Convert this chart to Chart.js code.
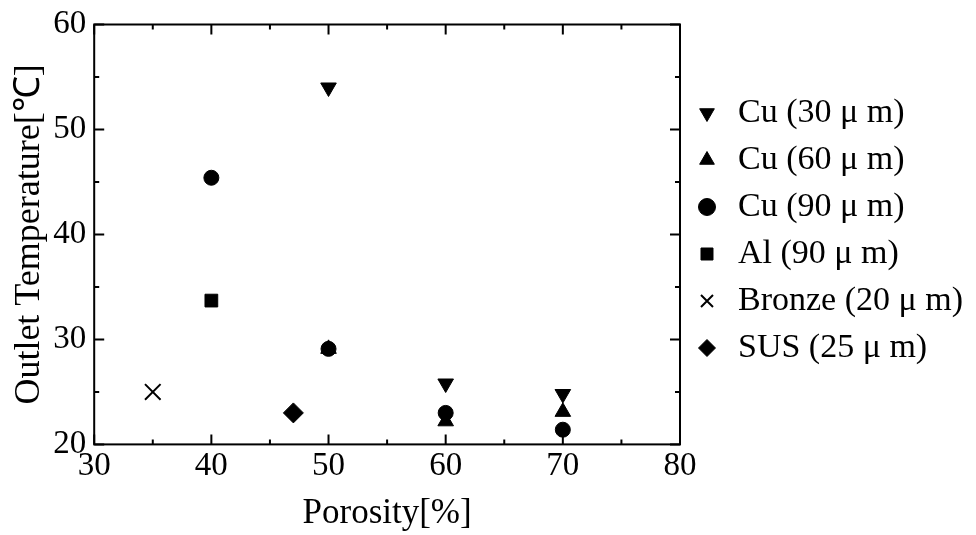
<!DOCTYPE html>
<html>
<head>
<script src="https://cdn.jsdelivr.net/npm/chart.js@4.4.0/dist/chart.umd.min.js"></script>
<style>body{margin:0;background:#fff}</style>
</head>
<body>
<div style="width:976px;height:535px"><canvas id="myChart"></canvas></div>
<script>
// series
var seriesNames = ["Cu (30 μ m)", "Cu (60 μ m)", "Cu (90 μ m)", "Al (90 μ m)", "Bronze (20 μ m)", "SUS (25 μ m)"];
var cu30X = [50, 60, 70],     cu30Y = [54, 25.8, 24.8];
var cu60X = [50, 60, 70],     cu60Y = [29.1, 22.2, 23.1];
var cu90X = [40, 50, 60, 70], cu90Y = [45.4, 29.1, 23.0, 21.4];
var alX = [40],               alY = [33.7];
var bronzeX = [35],           bronzeY = [25];
var susX = [47],              susY = [23];
var xTicks = [30, 40, 50, 60, 70, 80];
var yTicks = [20, 30, 40, 50, 60];

var FONT = "'Liberation Serif', 'Times New Roman', serif";

function pts(xs, ys) {
    return xs.map(function(x, i) { return {x: x, y: ys[i]}; });
}

function ds(i, xs, ys, style, r, rot) {
    var cross = style === 'crossRot';
    return {
        label: seriesNames[i],
        data: pts(xs, ys),
        pointStyle: style,
        pointRadius: r,
        rotation: rot || 0,
        backgroundColor: cross ? 'rgba(0,0,0,0)' : '#000',
        borderColor: '#000',
        borderWidth: cross ? 2 : 1,
        showLine: false
    };
}

// frame on all four sides plus inward tick marks
var frameTicks = {
    id: 'frameTicks',
    beforeDatasetsDraw: function(chart) {
        var c = chart.ctx, a = chart.chartArea;
        var sx = chart.scales.x, sy = chart.scales.y;
        c.save();
        c.strokeStyle = '#000';
        c.lineWidth = 2;
        c.strokeRect(a.left, a.top, a.right - a.left, a.bottom - a.top);
        c.beginPath();
        sx.ticks.forEach(function(t, i) {
            var p = sx.getPixelForValue(t.value);
            c.moveTo(p, a.bottom); c.lineTo(p, a.bottom - 10);
            c.moveTo(p, a.top); c.lineTo(p, a.top + 10);
            if (i < sx.ticks.length - 1) {
                var m = (p + sx.getPixelForValue(sx.ticks[i + 1].value)) / 2;
                c.moveTo(m, a.bottom); c.lineTo(m, a.bottom - 5);
                c.moveTo(m, a.top); c.lineTo(m, a.top + 5);
            }
        });
        sy.ticks.forEach(function(t, i) {
            var p = sy.getPixelForValue(t.value);
            c.moveTo(a.left, p); c.lineTo(a.left + 10, p);
            c.moveTo(a.right, p); c.lineTo(a.right - 10, p);
            if (i < sy.ticks.length - 1) {
                var m = (p + sy.getPixelForValue(sy.ticks[i + 1].value)) / 2;
                c.moveTo(a.left, m); c.lineTo(a.left + 5, m);
                c.moveTo(a.right, m); c.lineTo(a.right - 5, m);
            }
        });
        c.stroke();
        c.restore();
    }
};

new Chart(document.getElementById('myChart'), {
    type: 'scatter',
    data: {
        datasets: [
            ds(0, cu30X, cu30Y, 'triangle', 9, 180),
            ds(1, cu60X, cu60Y, 'triangle', 9),
            ds(2, cu90X, cu90Y, 'circle', 7.5),
            ds(3, alX, alY, 'rect', 9),
            ds(4, bronzeX, bronzeY, 'crossRot', 11),
            ds(5, susX, susY, 'rectRot', 10)
        ]
    },
    options: {
        responsive: true,
        maintainAspectRatio: false,
        animation: false,
        layout: {padding: {top: 0, right: 3, left: 0, bottom: 0}},
        plugins: {
            tooltip: {enabled: false},
            legend: {
                position: 'right',
                align: 'start',
                maxWidth: 296,
                title: {display: true, text: ' ', font: {size: 10}, padding: {top: 71, bottom: 0}},
                labels: {
                    usePointStyle: true,
                    boxHeight: 12,
                    boxWidth: 28,
                    padding: 13,
                    color: '#000',
                    font: {family: FONT, size: 34}
                }
            }
        },
        scales: {
            x: {
                type: 'linear',
                min: 30, max: 80,
                afterBuildTicks: function(s) { s.ticks = xTicks.map(function(v) { return {value: v}; }); },
                ticks: {color: '#000', padding: 2, font: {family: FONT, size: 33}},
                grid: {display: false, drawTicks: false},
                border: {display: false},
                title: {display: true, text: 'Porosity[%]', color: '#000', padding: {top: 5, bottom: 0}, font: {family: FONT, size: 35}}
            },
            y: {
                min: 20, max: 60,
                afterBuildTicks: function(s) { s.ticks = yTicks.map(function(v) { return {value: v}; }); },
                ticks: {color: '#000', padding: 8, font: {family: FONT, size: 33, lineHeight: 1}},
                grid: {display: false, drawTicks: false},
                border: {display: false},
                title: {display: true, text: 'Outlet Temperature[℃]', color: '#000', padding: {top: 8, bottom: -6}, font: {family: FONT, size: 36}}
            }
        }
    },
    plugins: [frameTicks]
});
</script>
</body>
</html>
